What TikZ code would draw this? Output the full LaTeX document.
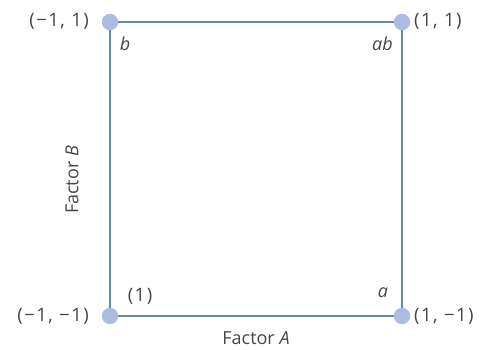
\documentclass[tikz,border=0pt]{standalone}
\usepackage{fontspec}
\setmainfont{Open Sans}
\newfontfamily\coordfont[LetterSpace=8]{Open Sans}
\definecolor{edgecol}{RGB}{98,138,172}
\definecolor{dotcol}{RGB}{172,188,226}
\definecolor{txtcol}{RGB}{70,70,70}
\begin{document}
\begin{tikzpicture}[x=1pt,y=-1pt,
  edge/.style={draw=edgecol,line width=2pt},
  corner/.style={circle,fill=dotcol,inner sep=0pt,minimum size=16.5pt},
  lbl/.style={text=txtcol,font=\fontsize{18}{21}\selectfont,inner sep=0pt},
  clbl/.style={text=txtcol,font=\coordfont\fontsize{18.5}{21}\selectfont,inner sep=0pt}]
\useasboundingbox (0,0) rectangle (482,349);
\coordinate (b) at (110,22);
\coordinate (ab) at (402,22);
\coordinate (one) at (110,316);
\coordinate (a) at (402,316);
\draw[edge] (b) -- (ab) -- (a) -- (one) -- cycle;
\node[corner] (nb) at (b) {};
\node[corner] (nab) at (ab) {};
\node[corner] (none) at (one) {};
\node[corner] (na) at (a) {};
\node[clbl,anchor=east] (cb) at (89,21) {(−1, 1)};
\node[clbl,anchor=west] (cab) at (414,21) {(1, 1)};
\node[clbl,anchor=east] (cone) at (89,316) {(−1, −1)};
\node[clbl,anchor=west] (ca) at (414,316) {(1, −1)};
\node[lbl] (tb) at (125,44) {\itshape b};
\node[lbl,anchor=east] (tab) at (393,44) {\itshape ab};
\node[clbl] (tone) at (140,296) {(1)};
\node[lbl] (ta) at (383,293) {\itshape a};
\node[lbl] (fa) at (256,338) {Factor \itshape A};
\node[lbl,rotate=90] (fb) at (72,180) {Factor \itshape B};
\end{tikzpicture}
\end{document}
